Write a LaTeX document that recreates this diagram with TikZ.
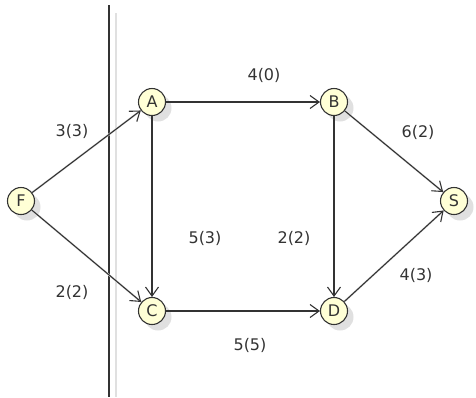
\documentclass[tikz,border=0pt]{standalone}
\usepackage{fontspec}
\setmainfont{DejaVu Sans}
\usetikzlibrary{arrows.meta}
\definecolor{nodefill}{HTML}{FFFFD6}
\definecolor{ink}{HTML}{333333}
\definecolor{shadowgrey}{HTML}{E0E0E0}
\tikzset{
  vertex/.style={circle, draw=ink, line width=1.1pt, fill=nodefill, minimum size=27pt, inner sep=0pt, text=ink, font=\fontsize{16}{18}\selectfont},
  flow/.style={draw=ink, line width=1.1pt, -{Straight Barb[length=9pt,width=13pt,line width=1.1pt]}},
  flowshadow/.style={draw=shadowgrey, line width=2pt},
  lbl/.style={text=ink, font=\fontsize{16}{18}\selectfont, inner sep=0pt}
}
\begin{document}
\begin{tikzpicture}[x=1pt,y=-1pt]
\useasboundingbox (0,0) rectangle (476,397);
% positions
\coordinate (pF) at (21,201);
\coordinate (pA) at (152,102);
\coordinate (pB) at (334,102);
\coordinate (pS) at (454,201);
\coordinate (pC) at (152,311);
\coordinate (pD) at (334,311);
% separator line and its shadow
\coordinate (l1) at (109,5);
\coordinate (l2) at (109,397);
\coordinate (s1) at (116,13);
\coordinate (s2) at (116,397);
\draw[draw=shadowgrey, line width=1.6pt] (s1) -- (s2);
\draw[draw=ink, line width=1.3pt] (l1) -- (l2);
% edge shadows
\begin{scope}[shift={(5,5)}]
\draw[flowshadow] (pF) -- (pA);
\draw[flowshadow] (pF) -- (pC);
\draw[flowshadow] (pA) -- (pB);
\draw[flowshadow] (pA) -- (pC);
\draw[flowshadow] (pB) -- (pD);
\draw[flowshadow] (pB) -- (pS);
\draw[flowshadow] (pC) -- (pD);
\draw[flowshadow] (pD) -- (pS);
\end{scope}
% node shadows
\foreach \p in {pF,pA,pB,pS,pC,pD}
  \fill[fill=shadowgrey] ([shift={(6,6)}]\p) circle (13.5pt);
% nodes
\node[vertex] (F) at (pF) {F};
\node[vertex] (A) at (pA) {A};
\node[vertex] (B) at (pB) {B};
\node[vertex] (S) at (pS) {S};
\node[vertex] (C) at (pC) {C};
\node[vertex] (D) at (pD) {D};
% edges
\draw[flow] (F) -- (A);
\draw[flow] (F) -- (C);
\draw[flow] (A) -- (B);
\draw[flow] (A) -- (C);
\draw[flow] (B) -- (D);
\draw[flow] (B) -- (S);
\draw[flow] (C) -- (D);
\draw[flow] (D) -- (S);
% labels
\node[lbl] (lAB) at (264,75) {4(0)};
\node[lbl] (lFA) at (72,131) {3(3)};
\node[lbl] (lBS) at (418,132) {6(2)};
\node[lbl] (lAC) at (205,238) {5(3)};
\node[lbl] (lBD) at (294,238) {2(2)};
\node[lbl] (lFC) at (72,292) {2(2)};
\node[lbl] (lDS) at (416,275) {4(3)};
\node[lbl] (lCD) at (250,345) {5(5)};
\end{tikzpicture}
\end{document}
